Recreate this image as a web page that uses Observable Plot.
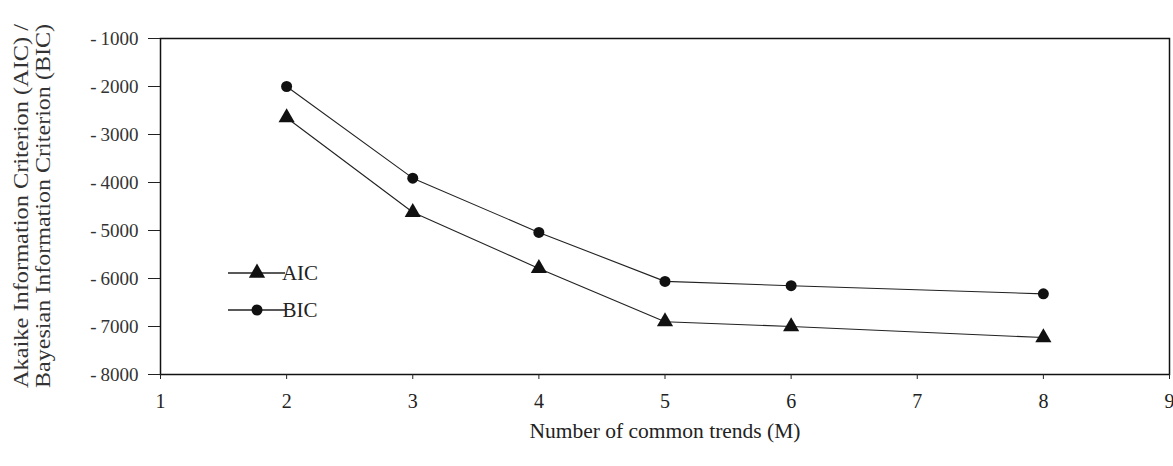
<!DOCTYPE html>
<html>
<head>
<meta charset="utf-8">
<script src="https://cdn.jsdelivr.net/npm/d3@7"></script>
<script src="https://cdn.jsdelivr.net/npm/@observablehq/plot@0.6"></script>
<style>
  html, body { margin: 0; padding: 0; background: #fff; }
</style>
</head>
<body>
<div id="chart"></div>
<script>
// Number of common trends (M)
const trends = [2, 3, 4, 5, 6, 8];
// Information criteria for each model size
const aic = [-2650, -4620, -5790, -6900, -7000, -7230];
const bic = [-2000, -3910, -5040, -6060, -6150, -6320];
const xTicks = [1, 2, 3, 4, 5, 6, 7, 8, 9];
const yTicks = [-8000, -7000, -6000, -5000, -4000, -3000, -2000, -1000];
const seriesNames = ["AIC", "BIC"];
const yTitle = ["Akaike Information Criterion (AIC) /", "Bayesian Information Criterion (BIC)"];
const xTitle = "Number of common trends (M)";
const serif = "'Liberation Serif', 'Times New Roman', serif";
const fmtY = d => "-\u2009" + Math.abs(d);

const rows = [
  ...trends.map((m, i) => ({m, v: aic[i], s: "AIC"})),
  ...trends.map((m, i) => ({m, v: bic[i], s: "BIC"}))
];
const symbolOf = {AIC: "triangle", BIC: "circle"};

const chart = Plot.plot({
  width: 1173,
  height: 466,
  marginLeft: 160,
  marginRight: 4,
  marginTop: 38,
  marginBottom: 92,
  style: {fontFamily: serif, color: "#222"},
  x: {domain: [1, 9], label: null},
  y: {domain: [-8000, -1000], label: null},
  marks: [
    Plot.frame({stroke: "#111", strokeWidth: 1.5}),
    // tick marks only; the labels are set as text marks below
    Plot.axisX({ticks: xTicks, tickSize: 5, tickFormat: () => "", label: null}),
    Plot.axisY({ticks: yTicks, tickSize: 12, tickFormat: () => "", label: null}),
    Plot.text(xTicks, {x: d => d, frameAnchor: "bottom", dy: 33, fontSize: 20, fill: "#222"}),
    Plot.text(yTicks, {y: d => d, text: fmtY, frameAnchor: "left", textAnchor: "end", dx: -22, fontSize: 19, fill: "#333"}),
    Plot.line(rows, {x: "m", y: "v", z: "s", stroke: "#222", strokeWidth: 1.1}),
    Plot.dot(rows.filter(d => d.s === "AIC"), {x: "m", y: "v", symbol: "triangle", r: 6, fill: "#111", stroke: "none"}),
    Plot.dot(rows.filter(d => d.s === "BIC"), {x: "m", y: "v", symbol: "circle", r: 5.5, fill: "#111", stroke: "none"}),
    Plot.text([xTitle], {
      frameAnchor: "bottom", dy: 63, fontSize: 21.5, fill: "#222"
    })
  ]
});

const svg = d3.select(chart);

// Two-line vertical title beside the y axis
yTitle.forEach((line, i) => {
  svg.append("text")
    .attr("transform", `translate(${20 + i * 22},206) rotate(-90)`)
    .attr("text-anchor", "middle")
    .attr("dominant-baseline", "central")
    .attr("font-size", 22)
    .attr("font-family", serif)
    .attr("fill", "#333")
    .attr("textLength", 364)
    .attr("lengthAdjust", "spacingAndGlyphs")
    .text(line);
});

// Legend drawn inside the plotting area
const legend = svg.append("g").attr("transform", "translate(228,273)");
seriesNames.forEach((name, i) => {
  const g = legend.append("g").attr("transform", `translate(0,${i * 37})`);
  g.append("line").attr("x1", 0).attr("x2", 57).attr("y1", 0).attr("y2", 0)
    .attr("stroke", "#222").attr("stroke-width", 1.3);
  g.append("path")
    .attr("transform", "translate(29,0)")
    .attr("d", d3.symbol(symbolOf[name] === "triangle" ? d3.symbolTriangle : d3.symbolCircle,
      symbolOf[name] === "triangle" ? 115 : 95)())
    .attr("fill", "#111");
  g.append("text").attr("x", 72).attr("y", 0).attr("dy", "0.35em")
    .attr("font-size", 21).attr("font-family", serif).attr("fill", "#222").text(name);
});

document.getElementById("chart").appendChild(chart);
</script>
</body>
</html>
